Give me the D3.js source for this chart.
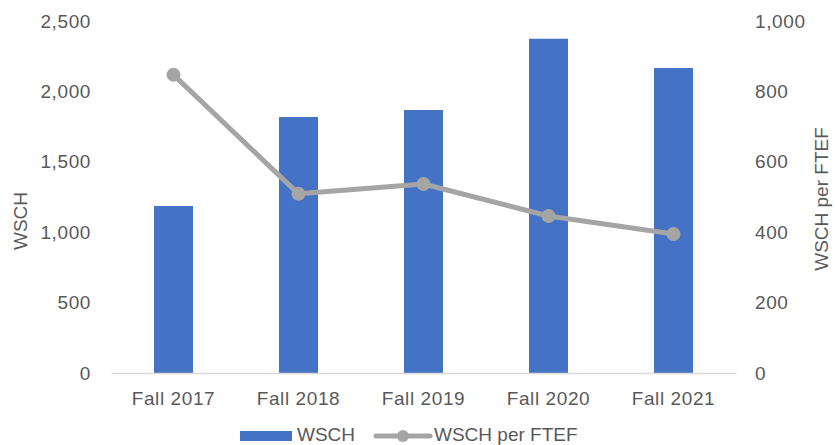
<!DOCTYPE html>
<html>
<head>
<meta charset="utf-8">
<script src="https://cdn.jsdelivr.net/npm/d3@7"></script>
<style>
  body { margin: 0; background: #fff; }
  text { font-family: "Liberation Sans", Arial, sans-serif; fill: #595959; }
</style>
</head>
<body>
<div id="chart"></div>
<script>
var terms = ["Fall 2017", "Fall 2018", "Fall 2019", "Fall 2020", "Fall 2021"];
var wsch = [1186, 1818, 1868, 2374, 2166];
var wschPerFtef = [847, 509, 537, 446, 395];
var leftTicks = [0, 500, 1000, 1500, 2000, 2500];
var rightTicks = [0, 200, 400, 600, 800, 1000];

var width = 835, height = 445;
var margin = { top: 21, right: 99, bottom: 72, left: 111 };
var fontSize = 19;

var svg = d3.select("#chart").append("svg")
    .attr("width", width)
    .attr("height", height);

var x = d3.scaleBand()
    .domain(terms)
    .range([margin.left, width - margin.right])
    .paddingInner(0.688)
    .paddingOuter(0.344);

var yLeft = d3.scaleLinear()
    .domain([0, 2500])
    .range([height - margin.bottom, margin.top]);

var yRight = d3.scaleLinear()
    .domain([0, 1000])
    .range([height - margin.bottom, margin.top]);

// bars
svg.append("g").selectAll("rect")
    .data(terms)
    .enter().append("rect")
    .attr("x", function (d) { return x(d); })
    .attr("y", function (d, i) { return yLeft(wsch[i]); })
    .attr("width", x.bandwidth())
    .attr("height", function (d, i) { return yLeft(0) - yLeft(wsch[i]); })
    .attr("fill", "#4472C4");

// baseline
var xAxis = svg.append("g")
    .attr("transform", "translate(0," + yLeft(0) + ")")
    .call(d3.axisBottom(x).tickSize(0).tickPadding(0));
xAxis.select(".domain").attr("stroke", "#D9D9D9").attr("stroke-width", 1.3);
xAxis.selectAll("text")
    .attr("y", 32)
    .attr("dy", 0)
    .attr("font-size", fontSize)
    .attr("letter-spacing", "0.6px")
    .attr("fill", "#595959");

// left axis
var leftAxis = svg.append("g")
    .attr("transform", "translate(" + 91 + ",0)")
    .call(d3.axisLeft(yLeft).tickValues(leftTicks).tickSize(0).tickPadding(0)
        .tickFormat(d3.format(",")));
leftAxis.select(".domain").remove();
leftAxis.selectAll("text")
    .attr("font-size", fontSize)
    .attr("letter-spacing", "0.6px")
    .attr("fill", "#595959");

// right axis
var rightAxis = svg.append("g")
    .attr("transform", "translate(" + 755 + ",0)")
    .call(d3.axisRight(yRight).tickValues(rightTicks).tickSize(0).tickPadding(0)
        .tickFormat(d3.format(",")));
rightAxis.select(".domain").remove();
rightAxis.selectAll("text")
    .attr("font-size", fontSize)
    .attr("letter-spacing", "0.6px")
    .attr("fill", "#595959");

svg.selectAll(".tick text").style("font-family", "Liberation Sans, Arial, sans-serif");

// axis titles
svg.append("text")
    .attr("transform", "translate(27,221) rotate(-90)")
    .attr("text-anchor", "middle")
    .attr("font-size", fontSize)
    .text("WSCH");

svg.append("text")
    .attr("transform", "translate(828,199) rotate(-90)")
    .attr("text-anchor", "middle")
    .attr("font-size", fontSize)
    .text("WSCH per FTEF");

// line
var line = d3.line()
    .x(function (d, i) { return x(terms[i]) + x.bandwidth() / 2; })
    .y(function (d) { return yRight(d); });

svg.append("path")
    .datum(wschPerFtef)
    .attr("d", line)
    .attr("fill", "none")
    .attr("stroke", "#A5A5A5")
    .attr("stroke-width", 5)
    .attr("stroke-linejoin", "round");

svg.append("g").selectAll("circle")
    .data(wschPerFtef)
    .enter().append("circle")
    .attr("cx", function (d, i) { return x(terms[i]) + x.bandwidth() / 2; })
    .attr("cy", function (d) { return yRight(d); })
    .attr("r", 7)
    .attr("fill", "#A5A5A5");

// legend
var legend = svg.append("g");
legend.append("rect")
    .attr("x", 240).attr("y", 431)
    .attr("width", 52).attr("height", 10)
    .attr("fill", "#4472C4");
legend.append("text")
    .attr("x", 297).attr("y", 441)
    .attr("font-size", fontSize)
    .text("WSCH");
legend.append("line")
    .attr("x1", 376).attr("x2", 430)
    .attr("y1", 436).attr("y2", 436)
    .attr("stroke", "#A5A5A5")
    .attr("stroke-width", 5)
    .attr("stroke-linecap", "round");
legend.append("circle")
    .attr("cx", 403).attr("cy", 436).attr("r", 6)
    .attr("fill", "#A5A5A5");
legend.append("text")
    .attr("x", 434).attr("y", 441)
    .attr("font-size", fontSize)
    .text("WSCH per FTEF");
</script>
</body>
</html>
